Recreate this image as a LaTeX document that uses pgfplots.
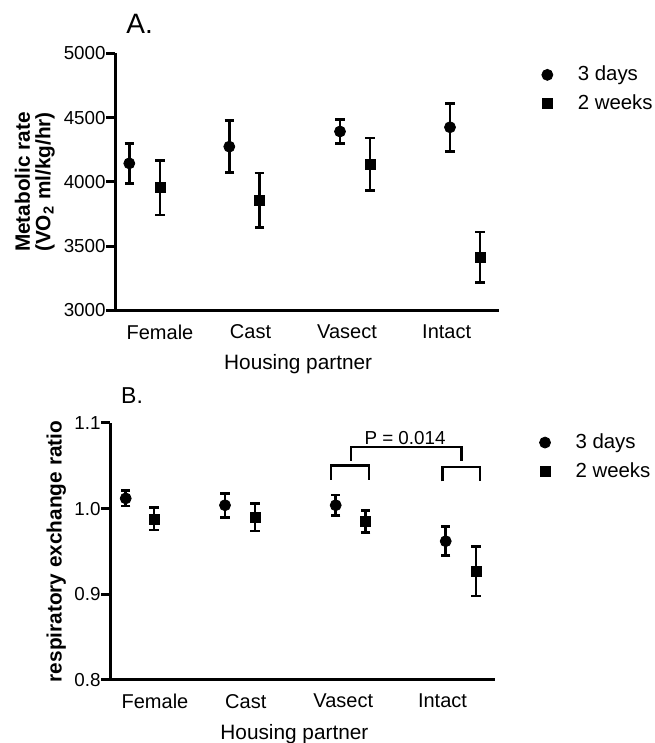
\documentclass[border=0pt]{standalone}
\usepackage{fontspec}
\setmainfont{Liberation Sans}
\usepackage{pgfplots}
\usepackage{pgfplotstable}
\pgfplotsset{compat=1.18}

% x = position in the panel (0 = y axis), y = mean, err = error bar
\pgfplotstableread{
x y err
14.3 4145 154
114.3 4275 203
225 4393 91
335 4426 186
}\metaDays
\pgfplotstableread{
x y err
45 3955 213
144.3 3857 213
255 4138 205
365 3415 196
}\metaWeeks
\pgfplotstableread{
x y err
15.7 1.012 0.009
115 1.004 0.014
225.7 1.004 0.012
335.7 0.962 0.017
}\rerDays
\pgfplotstableread{
x y err
44 0.988 0.013
145 0.990 0.016
255.7 0.985 0.013
366 0.927 0.029
}\rerWeeks

\pgfplotsset{
  prism/.style={
    scale only axis, clip=false,
    axis x line*=bottom, axis y line*=left,
    axis line style={line width=1.5pt, -},
    ytick style={line width=1.5pt, black},
    xtick style={draw=none},
    tick align=outside, major tick length=4.5pt,
    tick label style={font=\fontsize{9.4}{11}\selectfont},
    /pgf/number format/assume math mode=true,
    yticklabel style={inner sep=0pt, xshift=0pt},
    xticklabel style={font=\fontsize{10}{12}\selectfont, inner sep=0pt, anchor=north, yshift=-2.4pt},
    xticklabels={Female,Cast,Vasect,Intact},
    xlabel={Housing partner},
    every axis title shift=0pt,
    legend cell align=left,
    legend style={draw=none, fill=none, inner sep=0pt, nodes={inner sep=0pt},
      font=\fontsize{10.2}{12}\selectfont, column sep=12.5pt, row sep=5.45pt,
      anchor=north west},
  },
  days/.style={black, only marks, mark=*, mark size=2.75pt,
    error bars/.cd, y dir=both, y explicit,
    error bar style={line width=1.35pt},
    error mark options={rotate=90, mark size=2.35pt, line width=1.35pt}},
  weeks/.style={black, only marks, mark=square*, mark size=2.5pt,
    error bars/.cd, y dir=both, y explicit,
    error bar style={line width=1.35pt},
    error mark options={rotate=90, mark size=2.35pt, line width=1.35pt}},
}

\begin{document}
\begin{tikzpicture}
\useasboundingbox (0,0) rectangle (327pt,371.5pt);

% Panel A
\begin{axis}[prism,
  at={(57.5pt,216.25pt)}, anchor=south west,
  width=192pt, height=128.5pt,
  xmin=0, xmax=384, ymin=3000, ymax=5000,
  ytick={3000,3500,4000,4500,5000},
  /pgf/number format/1000 sep={},
  xtick={45,135.5,232,331.7},
  xlabel style={font=\fontsize{10.4}{12}\selectfont, inner sep=0pt, anchor=center,
    at={(axis description cs:0.477,-0.21)}},
  ylabel={Metabolic rate\\(VO\textsubscript{2} ml/kg/hr)},
  ylabel style={font=\bfseries\fontsize{10.4}{10.2}\selectfont, align=center, inner sep=0pt,
    anchor=center, at={(axis description cs:-0.209,0.5)}},
  title={A.},
  title style={font=\fontsize{14}{16}\selectfont, anchor=west, inner sep=0pt,
    at={(axis description cs:0.0286,1.115)}},
  legend style={at={(axis description cs:1.1105,0.953)}},
]
\addplot[days] table[x=x, y=y, y error=err] {\metaDays};
\addlegendentry{3 days}
\addplot[weeks] table[x=x, y=y, y error=err] {\metaWeeks};
\addlegendentry{2 weeks}
\end{axis}

% Panel B
\begin{axis}[prism,
  at={(55pt,31.5pt)}, anchor=south west,
  width=192.5pt, height=128.5pt,
  xmin=0, xmax=385, ymin=0.8, ymax=1.1,
  ytick={0.8,0.9,1.0,1.1},
  yticklabel style={/pgf/number format/.cd, fixed, fixed zerofill, precision=1},
  xtick={45,135.8,233.3,332.5},
  xlabel style={font=\fontsize{10.4}{12}\selectfont, inner sep=0pt, anchor=center,
    at={(axis description cs:0.479,-0.21)}},
  ylabel={respiratory exchange ratio},
  ylabel style={font=\bfseries\fontsize{10.4}{12}\selectfont, inner sep=0pt,
    anchor=center, at={(axis description cs:-0.1395,0.5)}},
  title={B.},
  title style={font=\fontsize{11.5}{14}\selectfont, anchor=west, inner sep=0pt,
    at={(axis description cs:0.028,1.105)}},
  legend style={at={(axis description cs:1.1146,0.960)}},
]
\addplot[days] table[x=x, y=y, y error=err] {\rerDays};
\addlegendentry{3 days}
\addplot[weeks] table[x=x, y=y, y error=err] {\rerWeeks};
\addlegendentry{2 weeks}

% significance brackets
\draw[line width=1.3pt] (axis cs:221,1.0338) -- (axis cs:221,1.0505)
  -- (axis cs:259,1.0505) -- (axis cs:259,1.0338);
\draw[line width=1.3pt] (axis cs:332.7,1.0318) -- (axis cs:332.7,1.0485)
  -- (axis cs:370,1.0485) -- (axis cs:370,1.0318);
\draw[line width=1.3pt] (axis cs:241,1.0558) -- (axis cs:241,1.0719)
  -- (axis cs:351.3,1.0719) -- (axis cs:351.3,1.0558);
\node[font=\fontsize{9.4}{11}\selectfont, inner sep=0pt] at (axis cs:295,1.0827) {P = 0.014};
\end{axis}
\end{tikzpicture}
\end{document}
